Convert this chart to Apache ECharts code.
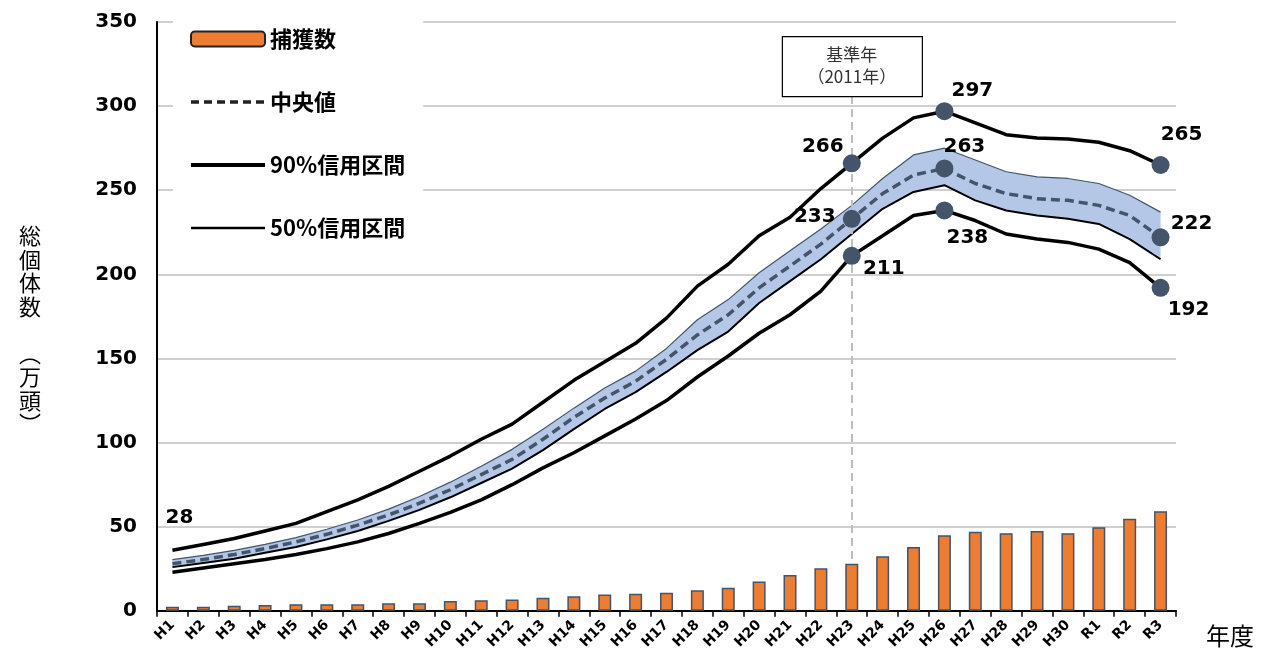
<!DOCTYPE html>
<html>
<head>
<meta charset="utf-8">
<style>
html,body{margin:0;padding:0;background:#fff;}
#chart{width:1263px;height:652px;}
</style>
<script src="https://cdn.jsdelivr.net/npm/echarts@6/dist/echarts.min.js"></script>
</head>
<body>
<div id="chart"></div>
<script>
const categories = ['H1','H2','H3','H4','H5','H6','H7','H8','H9','H10','H11','H12','H13','H14','H15','H16','H17','H18','H19','H20','H21','H22','H23','H24','H25','H26','H27','H28','H29','H30','R1','R2','R3'];
const capture = [2.5,2.5,3,3.5,4,4,4,4.5,4.5,5.8,6.3,6.8,7.8,8.7,9.7,10.2,10.7,12.2,13.8,17.5,21.3,25.3,28,32.5,38,45,47,46.2,47.5,46.2,49.7,54.7,59.2];
const median = [28,30.5,33.5,37,41,45.5,51,57,64,72,81,90,102,115,126.5,136.5,149.5,164,176,192,205,218,233,248,259,263,254,248,245,244,241,235,222];
const upper90 = [36,39.5,43,47.5,52,59,66,74,83,92,102,111,124,137,148,159,174,193,206,223,234,251,266,281,293,297,290,283,281,280.5,278.5,273.5,265];
const lower90 = [23,25.5,28,30.5,33.5,37,41,46,52,58.5,66,75,85,94,104,114,125,139,151.5,165,176,190,211,223,235,238,232,224,221,219,215,207,192];
const upper50 = [30.5,33,36,39.5,43.5,48.5,54,60.5,68,76.5,86,96,108,120.5,132.5,142.5,156,173,185,201,214,227,241,257,271,275,268,261,258,257,254,247,237];
const lower50 = [26,28.5,31,34.5,38,42.5,47.5,53.5,60,67.5,76,84.5,95.5,108,120,130,142,155,166,183,196,209,224,239,249,253,244,238,235,233,230,221,209];
const baseYear = 'H23';
const baseYearText = ['基準年', '（2011年）'];
const highlightCats = ['H23','H26','R3'];

const chart = echarts.init(document.getElementById('chart'), null, {renderer:'canvas'});
const idx = c => categories.indexOf(c);
const bandDiff = upper50.map((v,i) => +(v - lower50[i]).toFixed(2));

const LBL = {fontFamily:'DejaVu Sans', fontWeight:'bold', fontSize:20, color:'#000', textBorderWidth:0};
const offsets = {
  upper: {H23:[-29,-17], H26:[28,-20], R3:[21,-30]},
  median:{H23:[-37,-2], H26:[20,-22], R3:[31,-14]},
  lower: {H23:[32,13], H26:[23,27], R3:[28,22]}
};
const dots = [];
function addDots(arr, key){
  highlightCats.forEach(c => {
    const i = idx(c);
    dots.push({value:[c, arr[i]], label:Object.assign({show:true, position:'inside', offset:offsets[key][c], formatter: String(Math.round(arr[i]))}, LBL)});
  });
}
addDots(upper90,'upper'); addDots(median,'median'); addDots(lower90,'lower');
const firstLabel = {value:[categories[0], median[0]], symbolSize:0,
  label:Object.assign({show:true, position:'inside', offset:[7,-46], formatter:String(median[0])}, LBL)};

const lineCommon = {type:'line', symbol:'none', showSymbol:false, silent:true, animation:false};
const noSym = {opacity:0, color:'transparent', borderWidth:0};

chart.setOption({
  animation:false,
  backgroundColor:'#fff',
  grid:{left:157, right:87, top:22, bottom:41, containLabel:false},
  legend:{
    orient:'vertical', left:173, top:15, padding:[13,18,13,16],
    backgroundColor:'#fff', itemWidth:74, itemHeight:15, itemGap:41,
    textStyle:{fontFamily:'Noto Sans CJK JP', fontWeight:'bold', fontSize:22, color:'#000'},
    data:[
      {name:'捕獲数', itemStyle:{color:'#ed7d31', borderColor:'#222', borderWidth:2}},
      {name:'中央値', itemStyle:noSym, lineStyle:{color:'#222', width:3.5, type:[8,5]}},
      {name:'90%信用区間', itemStyle:noSym, lineStyle:{color:'#000', width:4}},
      {name:'50%信用区間', itemStyle:noSym, lineStyle:{color:'#000', width:2.5}}
    ]
  },
  xAxis:{
    type:'category', data:categories, boundaryGap:true,
    axisLine:{lineStyle:{color:'#000', width:2}},
    axisTick:{show:true, alignWithLabel:false, length:6, lineStyle:{color:'#000', width:1.5}},
    axisLabel:{interval:0, rotate:45, margin:12, fontFamily:'DejaVu Sans', fontWeight:'bold', fontSize:14, color:'#000'},
    name:'年度', nameLocation:'end', nameGap:30,
    nameTextStyle:{fontFamily:'Noto Sans CJK JP', fontSize:24, color:'#000', verticalAlign:'top', align:'left', padding:[13,0,0,0]}
  },
  yAxis:{
    type:'value', min:0, max:350, interval:50,
    axisLine:{show:true, lineStyle:{color:'#000', width:2}},
    axisTick:{show:false},
    splitLine:{lineStyle:{color:'#bfbfbf', width:1.5}},
    axisLabel:{margin:20, fontFamily:'DejaVu Sans', fontWeight:'bold', fontSize:20, color:'#000'}
  },
  series:[
    {name:'捕獲数', type:'bar', data:capture, barWidth:13, z:2,
     itemStyle:{color:'#ed7d31', borderColor:'#44546a', borderWidth:1.5},
     markLine:{silent:true, symbol:'none', label:{show:false},
       lineStyle:{color:'#bfbfbf', type:[8,5], width:2},
       data:[[{coord:[baseYear, 306]},{coord:[baseYear, capture[idx(baseYear)]]}]]}},
    Object.assign({}, lineCommon, {name:'bandBase', data:lower50, stack:'band', lineStyle:{opacity:0}, z:3}),
    Object.assign({}, lineCommon, {name:'bandFill', data:bandDiff, stack:'band', lineStyle:{opacity:0}, areaStyle:{color:'#b4c7e7', opacity:1}, z:3}),
    Object.assign({}, lineCommon, {name:'50%信用区間', data:lower50, itemStyle:{color:'#000'}, lineStyle:{color:'#000', width:2}, z:4}),
    Object.assign({}, lineCommon, {name:'50%信用区間', data:upper50, itemStyle:{color:'#000'}, lineStyle:{color:'#44546a', width:1.2}, z:4}),
    Object.assign({}, lineCommon, {name:'90%信用区間', data:upper90, itemStyle:{color:'#000'}, lineStyle:{color:'#000', width:3.5}, z:5}),
    Object.assign({}, lineCommon, {name:'90%信用区間', data:lower90, itemStyle:{color:'#000'}, lineStyle:{color:'#000', width:3.5}, z:5}),
    Object.assign({}, lineCommon, {name:'中央値', data:median, itemStyle:{color:'#44546a'}, lineStyle:{color:'#44546a', width:3.5, type:[9,5]}, z:6}),
    {name:'dots', type:'scatter', data:dots.concat([firstLabel]), symbol:'circle', symbolSize:18,
     itemStyle:{color:'#44546a', opacity:1}, z:7, silent:true}
  ]
});

const px = chart.convertToPixel({xAxisIndex:0}, baseYear);
const pyBottom = chart.convertToPixel({yAxisIndex:0}, 306);
const boxW = 140, boxH = 60;
chart.setOption({
  graphic:[
    {type:'rect', left:px - boxW/2, top:pyBottom - boxH, shape:{width:boxW, height:boxH},
     style:{fill:'#fff', stroke:'#000', lineWidth:1.2}, z:10},
    {type:'text', x:px, y:pyBottom - boxH/2, z:11,
     style:{text:baseYearText.join('\n'), fill:'#333', fontFamily:'Noto Sans CJK JP', fontSize:17, lineHeight:22, align:'center', verticalAlign:'middle'}},
    {type:'text', x:30, y:330, z:11,
     style:{text:'総\n個\n体\n数\n\n︵\n万\n頭\n︶', fill:'#000', fontFamily:'Noto Sans CJK JP', fontSize:22, lineHeight:23.5, align:'center', verticalAlign:'middle'}}
  ]
});
</script>
</body>
</html>
